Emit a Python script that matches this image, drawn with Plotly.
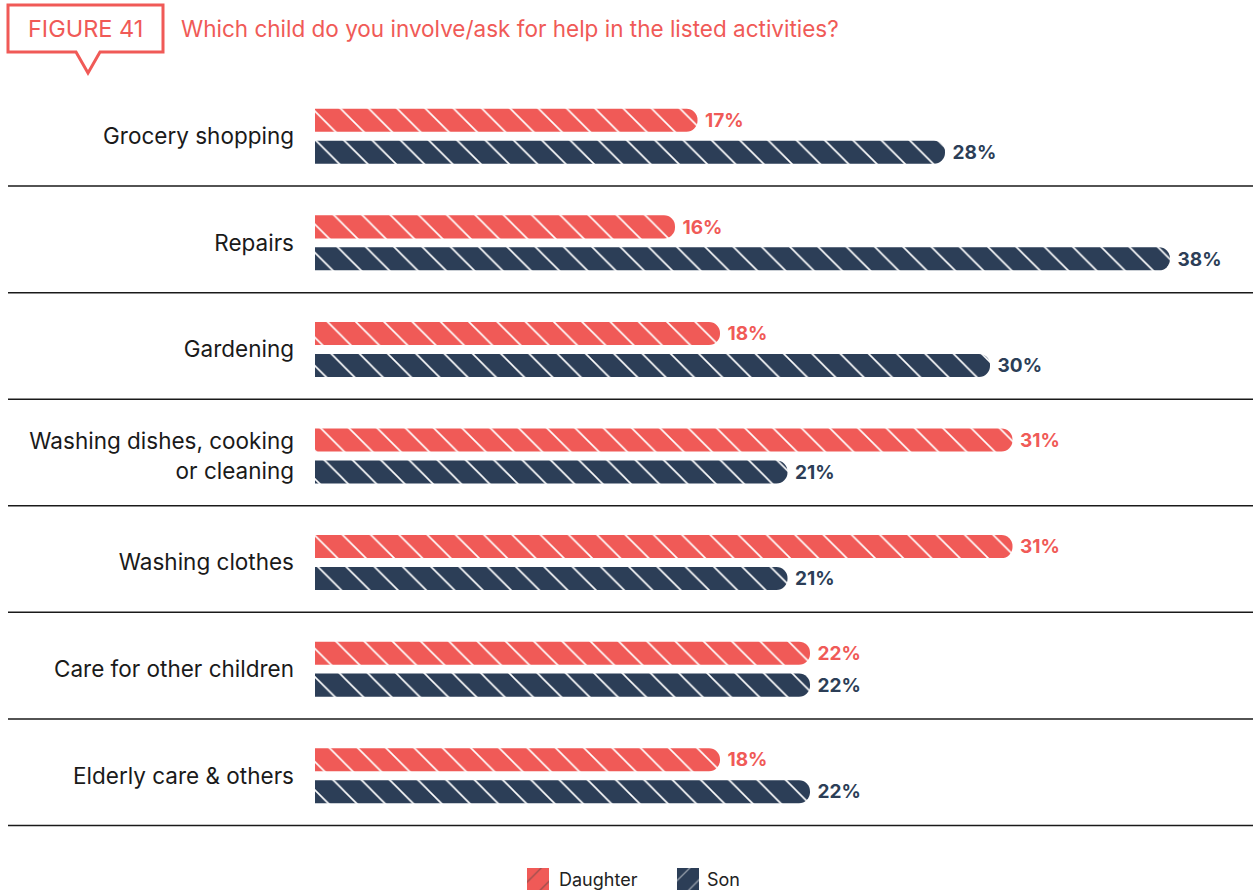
import plotly.graph_objects as go

# data
activities = [
    "Grocery shopping",
    "Repairs",
    "Gardening",
    "Washing dishes, cooking<br>or cleaning",
    "Washing clothes",
    "Care for other children",
    "Elderly care & others",
]
daughter = [17, 16, 18, 31, 31, 22, 18]
son = [28, 38, 30, 21, 21, 22, 22]
series = ["Daughter", "Son"]

RED = "#F05A57"
NAVY = "#2C3E57"
FONT = "Inter"

W, H = 1253, 891
M_L, M_R, M_T, M_B = 315, 0, 83, 0
PW = W - M_L - M_R
PH = H - M_T - M_B
PLOT_BOTTOM = 829  # bottom of the bar area, window px
ROW_H = (PLOT_BOTTOM - M_T) / len(activities)


def px_x(x):
    # window pixels -> paper coords
    return (x - M_L) / PW


def px_y(y):
    return (H - M_B - y) / PH


fig = go.Figure()

for name, vals, col in [(series[0], daughter, RED), (series[1], son, NAVY)]:
    fig.add_trace(go.Bar(
        y=activities, x=vals, name=name, orientation="h",
        marker=dict(color=col, line=dict(width=0), cornerradius=11,
                    pattern=dict(shape="\\", fgcolor="white", bgcolor=col,
                                 size=20, solidity=0.08, fillmode="replace")),
        text=[f"\u00a0{v}%" for v in vals], textposition="outside",
        textfont=dict(family=FONT, size=24, color=col, weight=700),
        cliponaxis=False, hoverinfo="skip", showlegend=False,
    ))

# legend swatches: small bars on their own pixel-unit axes at the bottom
fig.add_trace(go.Bar(
    x=[538, 688], y=[1, 1], width=22, base=0,
    xaxis="x2", yaxis="y2", showlegend=False, hoverinfo="skip",
    marker=dict(color=[RED, NAVY], line=dict(width=0),
                pattern=dict(shape="/", fgcolor="white", size=15, solidity=0.09,
                             fillmode="overlay")),
))

# separator rules under each row
shapes = []
for k in range(len(activities)):
    yy = k + 0.5 - 3.5 / ROW_H
    shapes.append(dict(type="line", xref="paper", yref="y",
                       x0=px_x(8), x1=1, y0=yy, y1=yy,
                       line=dict(color="#1a1a1a", width=1.5)))

# "FIGURE 41" callout box
box = (f"M {px_x(8)},{px_y(5)} L {px_x(163)},{px_y(5)} L {px_x(163)},{px_y(52)} "
       f"L {px_x(100)},{px_y(52)} L {px_x(88)},{px_y(73)} L {px_x(76)},{px_y(52)} "
       f"L {px_x(8)},{px_y(52)} Z")
shapes.append(dict(type="path", xref="paper", yref="paper", path=box,
                   line=dict(color=RED, width=3), fillcolor="white"))

annotations = [
    dict(text="FIGURE 41", xref="paper", yref="paper", x=px_x(85.5), y=px_y(29),
         xanchor="center", yanchor="middle", showarrow=False,
         font=dict(family=FONT, size=23.5, color=RED)),
    dict(text="Which child do you involve/ask for help in the listed activities?",
         xref="paper", yref="paper", x=px_x(179), y=px_y(29),
         xanchor="left", yanchor="middle", showarrow=False,
         font=dict(family=FONT, size=22.5, color=RED)),
]
for name, lx in zip(series, [557, 705]):
    annotations.append(dict(text=name, xref="paper", yref="paper",
                            x=px_x(lx), y=px_y(879), xanchor="left", yanchor="middle",
                            showarrow=False,
                            font=dict(family=FONT, size=18, color="#222")))

fig.update_layout(
    width=W, height=H,
    margin=dict(l=M_L, r=M_R, t=M_T, b=M_B, autoexpand=False),
    paper_bgcolor="white", plot_bgcolor="rgba(0,0,0,0)",
    barmode="group", bargap=0.4, bargroupgap=0.28,
    shapes=shapes, annotations=annotations,
    showlegend=False,
    xaxis=dict(range=[0, PW / 22.5], visible=False, fixedrange=True),
    yaxis=dict(domain=[px_y(PLOT_BOTTOM), 1], range=[6.5, -0.5],
               showgrid=False, zeroline=False, showline=False,
               ticks="", ticklabelstandoff=20,
               tickfont=dict(family=FONT, size=22.5, color="#1a1a1a")),
    xaxis2=dict(domain=[px_x(520), px_x(760)], range=[520, 760], visible=False,
                anchor="y2"),
    yaxis2=dict(domain=[px_y(890), px_y(868)], range=[0, 1], visible=False,
                anchor="x2"),
    font=dict(family=FONT),
)

fig.write_html("out.html", config={"displayModeBar": False},
               post_script="document.body.style.margin='0';")
